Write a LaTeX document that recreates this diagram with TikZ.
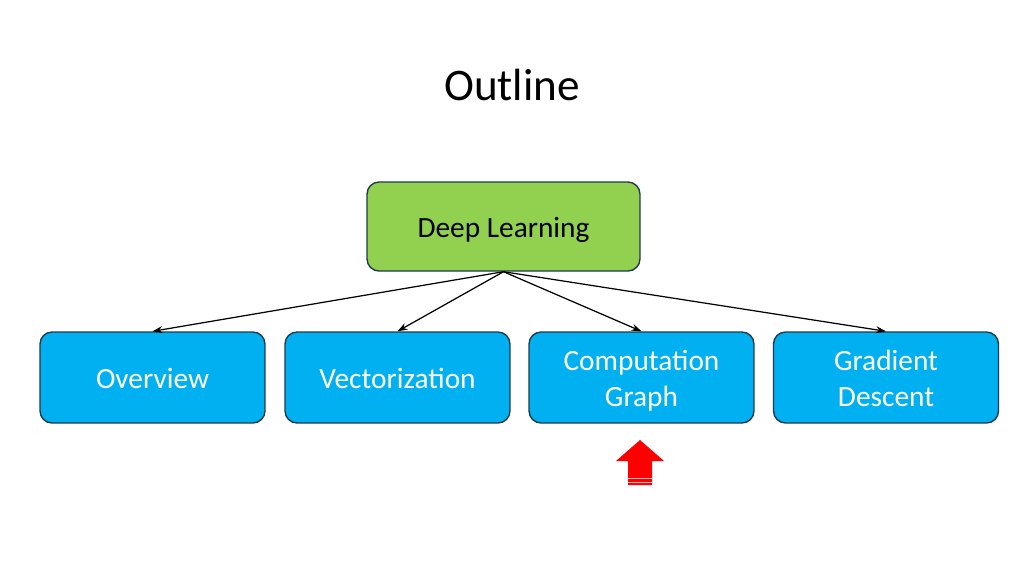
\documentclass[tikz,border=0pt]{standalone}
\usepackage{fontspec}
\setmainfont{Carlito}
\usetikzlibrary{arrows.meta}
\definecolor{dlgreen}{HTML}{92D050}
\definecolor{topblue}{HTML}{00B0F0}
\definecolor{boxedge}{HTML}{1F3B4D}
\newcommand{\boxtxt}[1]{\raisebox{-0.075cm}[\height][\depth]{\begin{tabular}{@{}c@{}}#1\end{tabular}}}
\begin{document}
\begin{tikzpicture}[x=0.02cm,y=-0.02cm,
  box/.style={draw=boxedge,line width=0.8pt,rounded corners=0.24cm,minimum width=4.5cm,minimum height=1.82cm,inner sep=0pt,align=center,font=\fontsize{16.7}{20.4}\selectfont},
  subbox/.style={box,fill=topblue,text=white},
  link/.style={line width=0.7pt,-{Stealth[length=2mm,width=1.4mm]}}]
\useasboundingbox (0,0) rectangle (1024,576);
\node[font=\fontsize{25.7}{30}\selectfont] (title) at (512,85) {Outline};
\node[box,fill=dlgreen,minimum width=5.46cm,minimum height=1.78cm] (dl) at (503.5,226.5) {\boxtxt{Deep Learning}};
\node[subbox] (ov) at (152.5,377.5) {\boxtxt{Overview}};
\node[subbox] (ve) at (397.5,377.5) {\boxtxt{Vectorization}};
\node[subbox] (cg) at (641.5,377.5) {\boxtxt{Computation\\Graph}};
\node[subbox] (gd) at (886,377.5) {\boxtxt{Gradient\\Descent}};
\foreach \t in {ov,ve,cg,gd}{\draw[link] (dl.south) -- (\t.north);}
\fill[red] (640,440) -- (664,461) -- (652,461) -- (652,485) -- (628,485) -- (628,461) -- (616,461) -- cycle;
\draw[white!70!red,line width=0.5pt] (628,478) -- (652,478) (628,482) -- (652,482);
\end{tikzpicture}
\end{document}
